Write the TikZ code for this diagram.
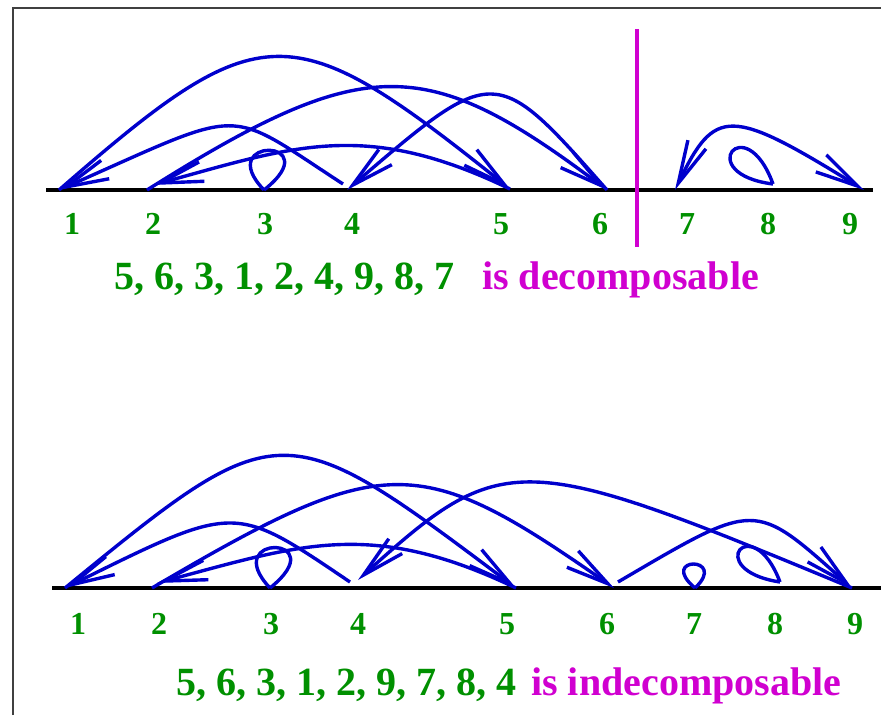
\documentclass[tikz,border=0pt]{standalone}
\usepackage{fontspec}
\setmainfont{Liberation Serif}
\usetikzlibrary{arrows.meta,calc}
\definecolor{arcblue}{RGB}{0,0,204}
\definecolor{lblgreen}{RGB}{0,144,0}
\definecolor{magn}{RGB}{208,0,208}
\begin{document}
\begin{tikzpicture}[x=1pt,y=-1pt,
  arc/.style={draw=arcblue, line width=3.4pt},
  arrowend/.style={-{Straight Barb[length=43pt,width=20pt]}},
  arrowboth/.style={{Straight Barb[length=43pt,width=20pt]}-{Straight Barb[length=43pt,width=20pt]}},
  baseaxis/.style={draw=black, line width=4pt},
  lbl/.style={text=lblgreen, font=\fontsize{32}{36}\selectfont\bfseries, inner sep=0pt},
  seq/.style={text=lblgreen, font=\fontsize{40}{46}\selectfont\bfseries, inner sep=0pt, anchor=base west},
  verdict/.style={text=magn, font=\fontsize{40}{46}\selectfont\bfseries, inner sep=0pt, anchor=base west},
]
\useasboundingbox (0,0) rectangle (881,715);
% frame
\draw[line width=1.5pt, black!75] (13,715) -- (13,8) -- (881,8);

% ---------- top diagram ----------
\draw[baseaxis] (46,190) -- (873,190);
\draw[magn, line width=4pt] (637,29) -- (637,247);

\coordinate (p1) at (59,190);
\coordinate (p2) at (147,190);
\coordinate (p3) at (264,190);
\coordinate (p4) at (347,190);
\coordinate (p5) at (510,189);
\coordinate (p6) at (607,190);
\coordinate (p7) at (675,190);
\coordinate (p8) at (770,190);
\coordinate (p9) at (864,190);

\draw[arc,arrowend] (p1) .. controls (262,13) and (290,13) .. (p5);
\draw[arc,arrowend] ($(p4)+(-4,-6)$) .. controls (223,106) and (249,106) .. (p1);
\draw[arc,arrowend] (p2) .. controls (365,53) and (425,53) .. (p6);
\draw[arc,arrowend] (p5) .. controls (365,119) and (295,146) .. ($(p2)+(6,-5)$);
\draw[arc,arrowend] (p6) .. controls (495,63) and (495,63) .. (p4);
\draw[arc,arrowboth] (p7) .. controls (715,107) and (730,107) .. (p9);
\draw[arc] (p3) .. controls +(-52,-54) and +(66,-52) .. (p3);
\draw[arc] ($(p8)+(3,-6)$) .. controls +(-28,-77) and +(-81,-10) .. ($(p8)+(3,-6)$);

\node[lbl] (l1) at (72,224) {1};
\node[lbl] (l2) at (153,224) {2};
\node[lbl] (l3) at (265,224) {3};
\node[lbl] (l4) at (352,224) {4};
\node[lbl] (l5) at (501,224) {5};
\node[lbl] (l6) at (600,224) {6};
\node[lbl] (l7) at (687,224) {7};
\node[lbl] (l8) at (768,224) {8};
\node[lbl] (l9) at (850,224) {9};

\node[seq] (s1) at (114,289) {5, 6, 3, 1, 2, 4, 9, 8, 7};
\node[verdict] (v1) at (482,289) {is decomposable};

% ---------- bottom diagram ----------
\draw[baseaxis] (52,588) -- (881,588);

\coordinate (q1) at (65,588);
\coordinate (q2) at (152,588);
\coordinate (q3) at (270,588);
\coordinate (q4) at (355,588);
\coordinate (q5) at (516,588);
\coordinate (q6) at (614,588);
\coordinate (q7) at (695,588);
\coordinate (q8) at (777,588);
\coordinate (q9) at (852,588);

\draw[arc,arrowend] (q1) .. controls (280,412) and (282,412) .. (q5);
\draw[arc,arrowend] ($(q4)+(-5,-6)$) .. controls (233,503) and (237,503) .. (q1);
\draw[arc,arrowend] (q2) .. controls (385,451) and (418,451) .. (q6);
\draw[arc,arrowend] (q5) .. controls (370,518) and (300,545) .. ($(q2)+(5,-5)$);
\draw[arc,arrowend] ($(q6)+(4,-6)$) .. controls (758,500) and (753,500) .. (q9);
\draw[arc,arrowend] (q9) .. controls (518,449) and (503,449) .. ($(q4)+(3,-8)$);
\draw[arc] (q3) .. controls +(-52,-55) and +(66,-53) .. (q3);
\draw[arc] (q7) .. controls +(-38,-32) and +(34,-32) .. (q7);
\draw[arc] ($(q8)+(3,-6)$) .. controls +(-28,-74) and +(-79,-12) .. ($(q8)+(3,-6)$);

\node[lbl] (m1) at (78,624) {1};
\node[lbl] (m2) at (159,624) {2};
\node[lbl] (m3) at (271,624) {3};
\node[lbl] (m4) at (358,624) {4};
\node[lbl] (m5) at (507,624) {5};
\node[lbl] (m6) at (607,624) {6};
\node[lbl] (m7) at (694,624) {7};
\node[lbl] (m8) at (775,624) {8};
\node[lbl] (m9) at (855,624) {9};

\node[seq] (s2) at (176,695) {5, 6, 3, 1, 2, 9, 7, 8, 4};
\node[verdict] (v2) at (531,695) {is indecomposable};
\end{tikzpicture}
\end{document}
